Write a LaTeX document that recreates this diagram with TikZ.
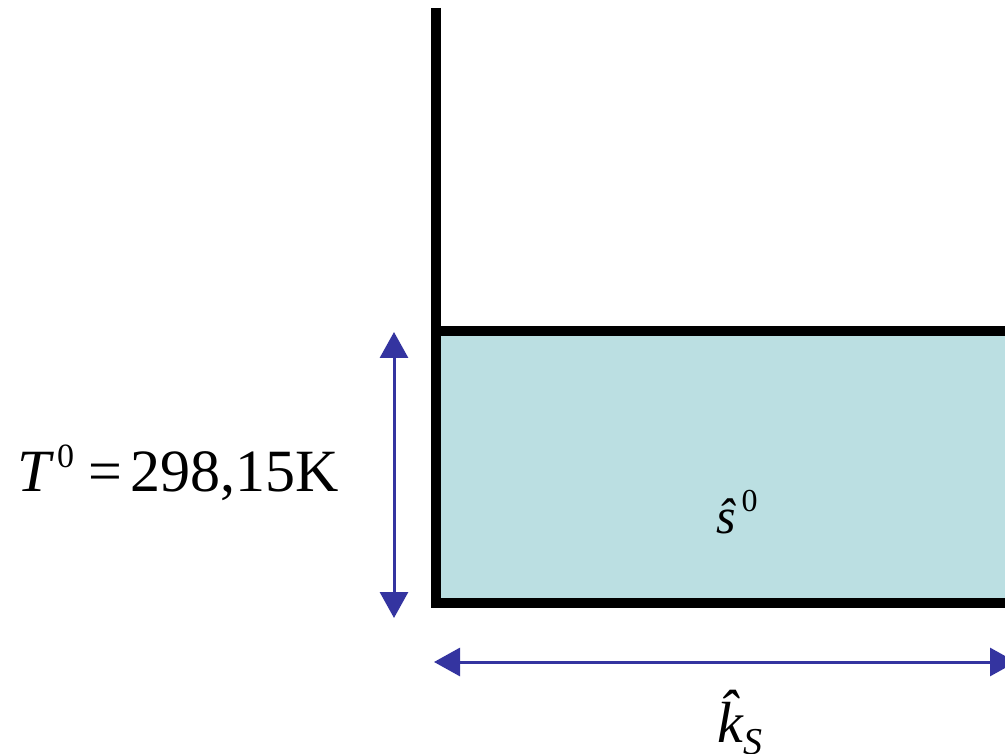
\documentclass[tikz,border=0pt]{standalone}
\usepackage{fontspec}
\setmainfont{Liberation Serif}
\usetikzlibrary{arrows.meta}
\definecolor{boxfill}{RGB}{187,223,226}
\definecolor{dimblue}{RGB}{52,52,160}
\tikzset{
  wall/.style={line width=10pt, draw=black},
  dimline/.style={line width=3pt, draw=dimblue, {Triangle[length=26pt,width=28pt]}-{Triangle[length=26pt,width=28pt]}, fill=dimblue},
  lbl/.style={inner sep=0pt, anchor=base west}
}
\newcommand{\supnum}[3]{\raisebox{#2}{\fontsize{#1}{#1}\selectfont #3}}
\begin{document}
\begin{tikzpicture}[x=1pt,y=-1pt]
\useasboundingbox (0,0) rectangle (1005,754);
\clip (0,0) rectangle (1005,754);
% fluid region
\fill[boxfill] (436,331) rectangle (1015,603);
% walls
\coordinate (wtop) at (436,8);
\coordinate (wbot) at (436,608);
\coordinate (tl) at (431,331);
\coordinate (tr) at (1015,331);
\coordinate (bl) at (431,603);
\coordinate (br) at (1015,603);
\draw[wall] (wtop) -- (wbot);
\draw[wall] (tl) -- (tr);
\draw[wall] (bl) -- (br);
% dimension arrows
\coordinate (vt) at (394,332);
\coordinate (vb) at (394,618);
\draw[dimline] (vt) -- (vb);
\coordinate (hl) at (434,662);
\coordinate (hr) at (1016,662);
\draw[dimline] (hl) -- (hr);
% labels
\node[lbl] (temp) at (17,491) {\fontsize{60}{60}\selectfont\itshape T\/\upshape\hspace{3pt}\supnum{34pt}{24pt}{0}\hspace{14pt}=\hspace{9pt}298,15K};
\node[lbl] (ent) at (716,533) {\fontsize{50}{50}\selectfont\itshape \^{s}\upshape\hspace{6pt}\supnum{32pt}{22pt}{0}};
\node[lbl] (kay) at (717,742) {\fontsize{58}{58}\selectfont\itshape \^{k}\hspace{1pt}\supnum{38pt}{-12pt}{S}};
\end{tikzpicture}
\end{document}
